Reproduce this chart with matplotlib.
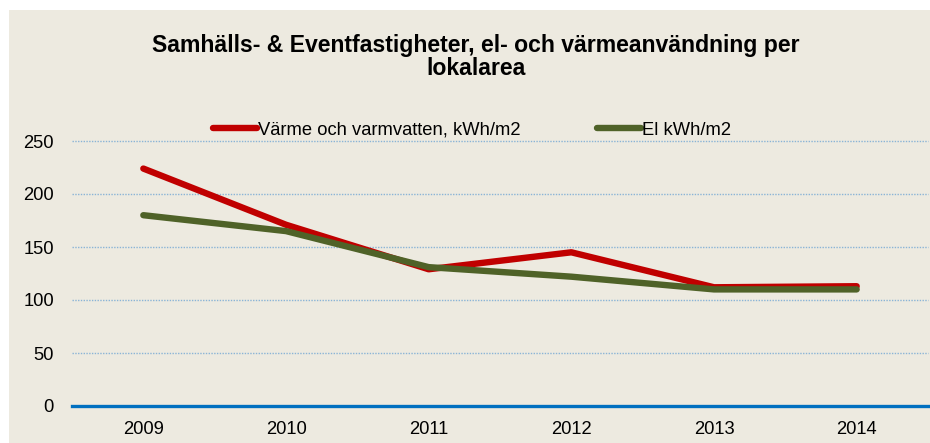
import matplotlib
matplotlib.use("Agg")
import matplotlib.pyplot as plt
from matplotlib.patches import Rectangle
from matplotlib.lines import Line2D

years = ["2009", "2010", "2011", "2012", "2013", "2014"]
varme = [224, 171, 129, 145, 112, 113]
el = [180, 165, 131, 122, 110, 110]
series_labels = ["Värme och varmvatten, kWh/m2", "El kWh/m2"]
title = "Samhälls- & Eventfastigheter, el- och värmeanvändning per\nlokalarea"
yticks = [0, 50, 100, 150, 200, 250]

W, H = 930, 443
plt.rcParams['font.family'] = ['Liberation Sans', 'DejaVu Sans']
fig = plt.figure(figsize=(W / 100, H / 100), dpi=100, facecolor="white")
bg = "#EDEAE0"
fig.patches.append(Rectangle((9 / W, 0), 1 - 9 / W, 1 - 10 / H, transform=fig.transFigure,
                             facecolor=bg, edgecolor="none", zorder=-10))

ax = fig.add_axes([72 / W, 37 / H, (928 - 72) / W, (406 - 141) / H])
ax.set_facecolor("none")
x = list(range(len(years)))
red, green = "#C00000", "#4F6228"
ax.plot(x, varme, color=red, lw=4.6, solid_capstyle="round", solid_joinstyle="round", zorder=3)
ax.plot(x, el, color=green, lw=4.6, solid_capstyle="round", solid_joinstyle="round", zorder=4)

ax.set_xlim(-0.5, len(years) - 0.5)
ax.set_ylim(0, 250)
ax.set_yticks(yticks)
ax.set_yticklabels([str(v) for v in yticks])
ax.set_xticks(x)
ax.set_xticklabels(years)
ax.grid(False)
for v in yticks[1:]:
    ax.axhline(v, color="#8AB4D6", lw=1.0, ls=(0, (1, 1)), zorder=1, clip_on=False)
ax.axhline(0, color="#0070C0", lw=2.4, zorder=5, clip_on=False)
for s in ax.spines.values():
    s.set_visible(False)
ax.tick_params(axis="both", length=0, labelsize=13.2, colors="black")
ax.tick_params(axis="y", pad=13)
ax.tick_params(axis="x", pad=11)

fig.text(476 / W, 1 - 57 / H, title, ha="center", va="center", fontsize=16.6,
         fontweight="bold", linespacing=1.03)

handles = [Line2D([0], [0], color=red, lw=4.6, solid_capstyle="round"),
           Line2D([0], [0], color=green, lw=4.6, solid_capstyle="round")]
fig.legend(handles, series_labels, loc="center left", bbox_to_anchor=(204 / W, 1 - 130 / H),
           ncol=2, frameon=False, fontsize=13.2, borderpad=0, handlelength=2.4,
           handletextpad=0.06, columnspacing=4.15)

fig.savefig("out.png", dpi=100, facecolor="white")
